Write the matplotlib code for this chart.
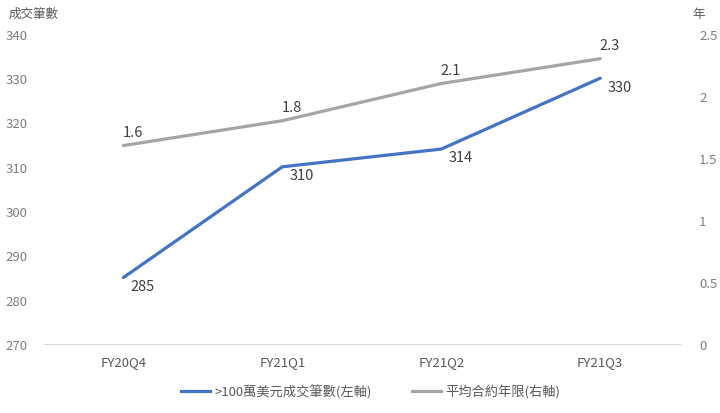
import matplotlib
matplotlib.use("Agg")
import matplotlib.pyplot as plt
from matplotlib.lines import Line2D

plt.rcParams['font.family'] = ['Noto Sans CJK TC', 'DejaVu Sans']

# data
quarters = ["FY20Q4", "FY21Q1", "FY21Q2", "FY21Q3"]
deals = [285, 310, 314, 330]
years = [1.6, 1.8, 2.1, 2.3]
left_ticks = [270, 280, 290, 300, 310, 320, 330, 340]
right_ticks = [0, 0.5, 1, 1.5, 2, 2.5]

BLUE = "#4472C4"
GRAY = "#A5A5A5"
TXT = "#404040"
TICK = "#7F7F7F"

fig = plt.figure(figsize=(7.2, 4.14), dpi=100)
ax = fig.add_axes([0.061, 0.1667, 0.883, 0.749])
ax2 = ax.twinx()

x = list(range(len(quarters)))
ax.plot(x, deals, color=BLUE, lw=2.3, solid_capstyle="round")
ax2.plot(x, years, color=GRAY, lw=2.3, solid_capstyle="round")

ax.set_xlim(-0.5, len(quarters) - 0.5)
ax.set_ylim(270, 340)
ax2.set_ylim(0, 2.5)
ax.set_yticks(left_ticks)
ax2.set_yticks(right_ticks)
ax2.set_yticklabels([f"{t:g}" for t in right_ticks])
ax.set_xticks(x)
ax.set_xticklabels(quarters)

for a in (ax, ax2):
    for s in a.spines.values():
        s.set_visible(False)
    a.tick_params(length=0, labelsize=9.5, labelcolor=TICK)
ax.spines["bottom"].set_visible(True)
ax.spines["bottom"].set_color("#D9D9D9")
ax.tick_params(axis="x", labelcolor="#595959", pad=8)
ax.tick_params(axis="y", pad=12)
ax2.tick_params(axis="y", pad=14)

# data labels
for xi, v in zip(x, deals):
    ax.annotate(str(v), (xi, v), xytext=(5, -1), textcoords="offset points",
                ha="left", va="top", fontsize=10.5, color=TXT)
for xi, v in zip(x, years):
    ax2.annotate(f"{v:g}", (xi, v), xytext=(7, 5), textcoords="offset points",
                 ha="center", va="bottom", fontsize=10.5, color=TXT)

fig.text(0.012, 0.965, "成交筆數", fontsize=9, color="#595959", va="center")
fig.text(0.962, 0.965, "年", fontsize=9, color="#595959", va="center")

handles = [Line2D([], [], color=BLUE, lw=2.3), Line2D([], [], color=GRAY, lw=2.3)]
fig.legend(handles, [">100萬美元成交筆數(左軸)", "平均合約年限(右軸)"],
           loc="center", bbox_to_anchor=(0.515, 0.052), ncol=2, frameon=False,
           fontsize=9.5, labelcolor="#595959", handlelength=2.2, handletextpad=0.35,
           columnspacing=3)

fig.savefig("out.png", dpi=100)
